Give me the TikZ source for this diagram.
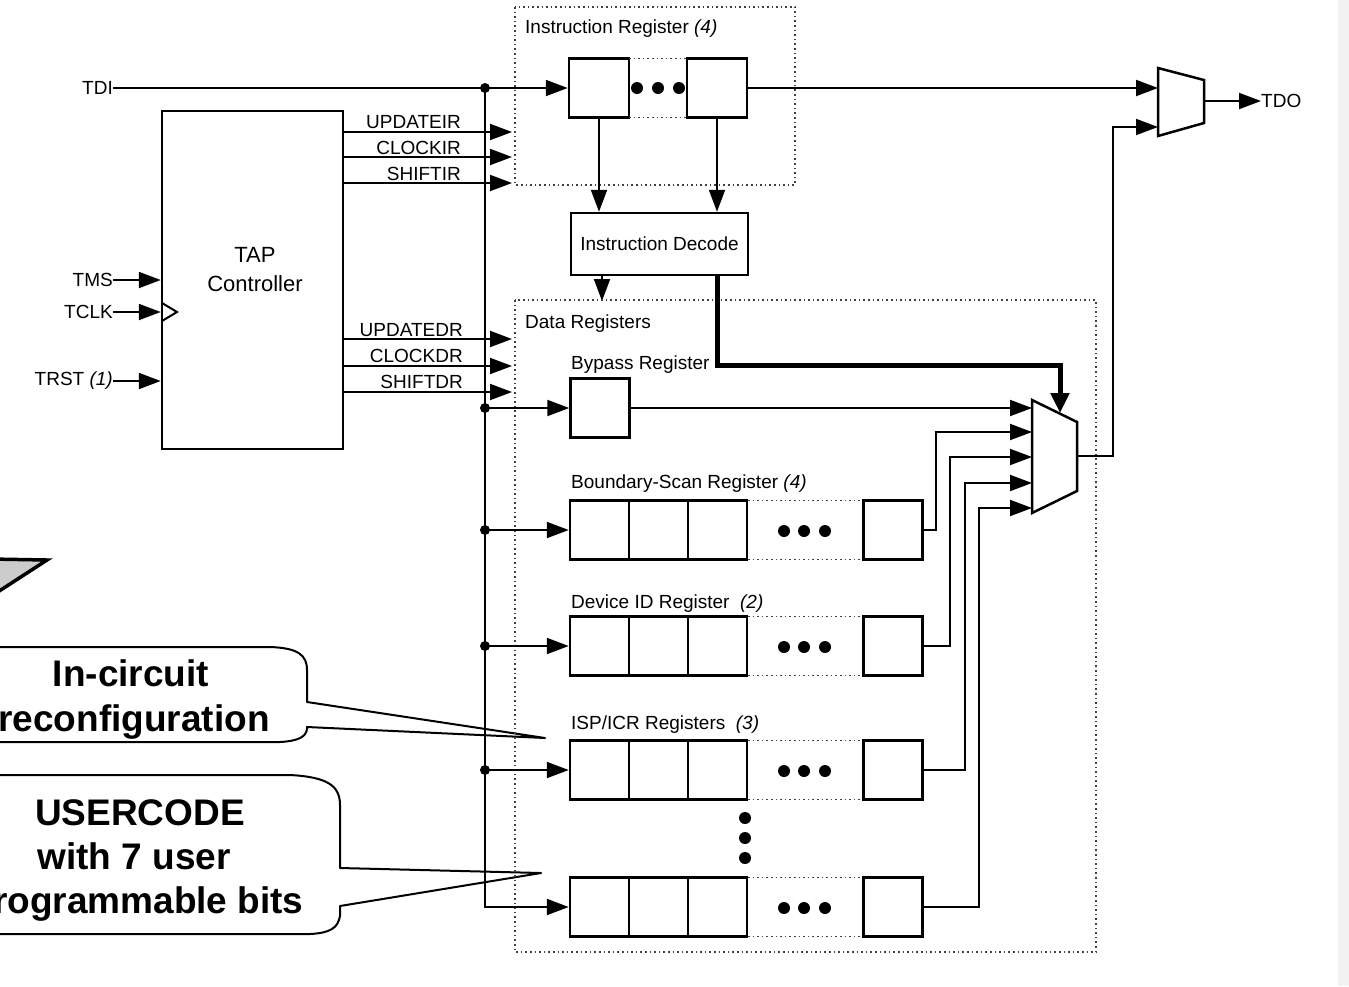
\documentclass[tikz,border=0pt]{standalone}
\usepackage{fontspec}
\setmainfont{Liberation Sans}
\usetikzlibrary{arrows.meta}
\newcommand\RegRow[2]{%
  \node[box] (#1a) at (599.5,#2) {};
  \node[box] (#1b) at (658.5,#2) {};
  \node[box] (#1c) at (717.5,#2) {};
  \node[box] (#1n) at (893,#2) {};
  \draw[dotbox] (748,#2-29.5) -- (863,#2-29.5);
  \draw[dotbox] (748,#2+29.5) -- (863,#2+29.5);
  \node[bdot] (#1d1) at (784,#2+1) {};
  \node[bdot] (#1d2) at (804,#2+1) {};
  \node[bdot] (#1d3) at (825,#2+1) {};
}
\begin{document}
\begin{tikzpicture}[x=1pt,y=-1pt,
  lbl/.style={font=\fontsize{19}{22}\selectfont, inner sep=0pt},
  wire/.style={line width=2pt},
  arr/.style={line width=2pt, -{Triangle[length=22pt,width=16pt]}},
  box/.style={draw, line width=2.5pt, inner sep=0pt, minimum width=59pt, minimum height=59pt},
  dotbox/.style={draw=black!75, line width=1.8pt, dash pattern=on 1.6pt off 3pt},
  call/.style={draw, line width=2pt, fill=white, line join=round},
  calltext/.style={font=\bfseries\fontsize{37}{44}\selectfont, inner sep=0pt, anchor=base},
  jdot/.style={circle, fill, inner sep=0pt, minimum size=10pt},
  bdot/.style={circle, fill, inner sep=0pt, minimum size=12pt}]
\useasboundingbox (0,0) rectangle (1349,986);
\clip (0,0) rectangle (1349,986);
\fill[black!5] (1338,0) rectangle (1349,986);

% gray arrow tip at left
\filldraw[fill=black!20, line width=3.5pt, line join=miter] (-10,559) -- (47,560) -- (-10,597) -- cycle;

% callouts
\draw[call] (-30,647) -- (270,647) .. controls (298,648) and (307,655) .. (307,670)
  -- (307,702) -- (545,738) -- (307,727) -- (307,729) .. controls (306,737) and (298,741) .. (280,742) -- (-30,742) -- cycle;
\node[calltext] (c1a) at (131,686) {In-circuit};
\node[calltext] (c1b) at (134,731) {reconfiguration};
\draw[call] (-30,775) -- (290,775) .. controls (328,777) and (340,786) .. (340,805)
  -- (340,868) -- (541,873) -- (340,906) -- (340,916) .. controls (338,928) and (330,933) .. (310,934) -- (-30,934) -- cycle;
\node[calltext] (c2a) at (140,825) {USERCODE};
\node[calltext] (c2b) at (134,869) {with 7 user};
\node[calltext] (c2c) at (137,913) {programmable bits};

% TAP controller
\node[draw, line width=2.5pt, minimum width=181pt, minimum height=338pt, inner sep=0pt] (tap) at (252.5,280) {};
\node[font=\fontsize{22}{29}\selectfont, align=center, inner sep=0pt] (taptxt) at (255,270) {TAP\\Controller};
\draw[line width=2pt, line join=miter] (162,303) -- (177,312) -- (162,321);

% inputs
\node[lbl, anchor=east] (tdi) at (113,88) {TDI};
\node[lbl, anchor=east] (tms) at (113,280) {TMS};
\node[lbl, anchor=east] (tclk) at (113,312) {TCLK};
\node[lbl, anchor=east] (trst) at (113,381) {TRST \textit{(1)}};
\draw[arr] (tms.east) -- (tms.east -| tap.west);
\draw[arr] (tclk.east) -- (tclk.east -| tap.west);
\draw[arr] (trst.east) -- (trst.east -| tap.west);

% instruction register
\draw[dotbox] (515,7) rectangle (795,185);
\node[lbl, anchor=base west] (irlbl) at (525,33) {Instruction Register \textit{(4)}};
\node[box, minimum width=60pt] (ir1) at (599,88) {};
\node[box, minimum width=60pt] (irn) at (717,88) {};
\draw[dotbox] (629,58.5) -- (687,58.5);
\draw[dotbox] (629,117.5) -- (687,117.5);
\node[bdot] (ird1) at (637,88) {};
\node[bdot] (ird2) at (658,88) {};
\node[bdot] (ird3) at (679,88) {};
\draw[arr] (tdi.east) -- (ir1.west);

% instruction decode
\node[draw, lbl, line width=2.5pt, minimum width=177pt, minimum height=62pt] (dec) at (659.5,244) {Instruction Decode};
\draw[arr] (ir1.south) -- (ir1.south |- dec.north);
\draw[arr] (irn.south) -- (irn.south |- dec.north);
\coordinate (drtop) at (602,301);
\draw[arr] (drtop |- dec.south) -- (drtop);

% TAP outputs
\coordinate (uir) at (512,132);
\coordinate (cir) at (512,157);
\coordinate (sir) at (512,183);
\coordinate (udr) at (512,339);
\coordinate (cdr) at (512,366);
\coordinate (sdr) at (512,392);
\draw[arr] (uir -| tap.east) -- (uir);
\draw[arr] (cir -| tap.east) -- (cir);
\draw[arr] (sir -| tap.east) -- (sir);
\draw[arr] (udr -| tap.east) -- (udr);
\draw[arr] (cdr -| tap.east) -- (cdr);
\draw[arr] (sdr -| tap.east) -- (sdr);
\node[lbl, anchor=base east] (luir) at (461,128) {UPDATEIR};
\node[lbl, anchor=base east] (lcir) at (461,154) {CLOCKIR};
\node[lbl, anchor=base east] (lsir) at (461,180) {SHIFTIR};
\node[lbl, anchor=base east] (ludr) at (463,336) {UPDATEDR};
\node[lbl, anchor=base east] (lcdr) at (463,362) {CLOCKDR};
\node[lbl, anchor=base east] (lsdr) at (463,388) {SHIFTDR};

% data registers
\draw[dotbox] (515,300) rectangle (1096,952);
\node[lbl, anchor=base west] (drlbl) at (525,328) {Data Registers};
\node[lbl, anchor=base west] (bylbl) at (571,369) {Bypass Register};
\node[box] (byp) at (600,408) {};
\node[lbl, anchor=base west] (bslbl) at (571,488) {Boundary-Scan Register \textit{(4)}};
\RegRow{bsr}{530}
\node[lbl, anchor=base west] (idlbl) at (571,608) {Device ID Register\ \ \textit{(2)}};
\RegRow{did}{646}
\node[lbl, anchor=base west] (islbl) at (571,729) {ISP/ICR Registers\ \ \textit{(3)}};
\RegRow{isp}{770}
\node[bdot] (vd1) at (745,818) {};
\node[bdot] (vd2) at (745,838) {};
\node[bdot] (vd3) at (745,858) {};
\RegRow{lst}{907}

% TDI bus
\coordinate (bt) at (485,88);
\draw[arr] (bt) |- (lsta.west);
\node[jdot] (j0) at (bt) {};
\node[jdot] (j1) at (byp.west -| bt) {};
\node[jdot] (j2) at (bsra.west -| bt) {};
\node[jdot] (j3) at (dida.west -| bt) {};
\node[jdot] (j4) at (ispa.west -| bt) {};
\draw[arr] (j1.center) -- (byp.west);
\draw[arr] (j2.center) -- (bsra.west);
\draw[arr] (j3.center) -- (dida.west);
\draw[arr] (j4.center) -- (ispa.west);

% data mux
\draw[line width=2.5pt, line join=miter] (1032,400) -- (1077,422) -- (1077,491) -- (1032,513) -- cycle;
\coordinate (mi1) at (1032,408);
\coordinate (mi2) at (1032,432);
\coordinate (mi3) at (1032,457);
\coordinate (mi4) at (1032,483);
\coordinate (mi5) at (1032,508);
\coordinate (mo) at (1077,456);
\draw[arr] (byp.east) -- (mi1);
\draw[arr] (bsrn.east) -- ++(12,0) |- (mi2);
\draw[arr] (didn.east) -- ++(26,0) |- (mi3);
\draw[arr] (ispn.east) -- ++(41,0) |- (mi4);
\draw[arr] (lstn.east) -- ++(55,0) |- (mi5);

% select line
\coordinate (selc) at (1060,365);
\coordinate (sel) at (1060,413);
\draw[line width=5pt, line join=miter, -{Triangle[length=20pt,width=18pt]}] (dec.south -| irn) |- (selc) -- (sel);

% output mux
\draw[line width=2.5pt, line join=miter] (1158,68) -- (1204,80) -- (1204,123) -- (1158,136) -- cycle;
\coordinate (m1a) at (1158,88);
\coordinate (m1b) at (1158,127);
\coordinate (m1o) at (1204,101);
\coordinate (mj) at (1113,456);
\draw[arr] (irn.east) -- (m1a);
\draw[arr] (mo) -- (mj) |- (m1b);
\node[lbl, anchor=west] (tdo) at (1261,101) {TDO};
\draw[arr] (m1o) -- (tdo.west);
\end{tikzpicture}
\end{document}
